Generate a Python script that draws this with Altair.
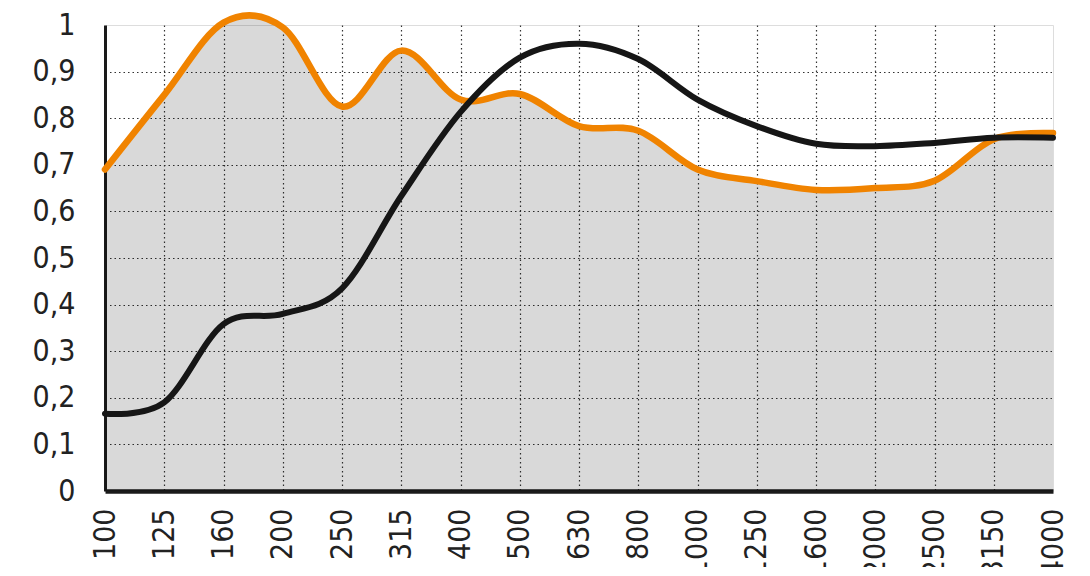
import altair as alt
import pandas as pd

freqs = ["100", "125", "160", "200", "250", "315", "400", "500", "630", "800",
         "1000", "1250", "1600", "2000", "2500", "3150", "4000"]
orange_vals = [0.69, 0.85, 1.005, 0.995, 0.825, 0.945, 0.84, 0.852, 0.783, 0.773,
               0.69, 0.665, 0.646, 0.65, 0.666, 0.755, 0.768]
black_vals = [0.166, 0.19, 0.358, 0.38, 0.435, 0.633, 0.813, 0.93, 0.96, 0.927,
              0.84, 0.783, 0.745, 0.74, 0.747, 0.758, 0.758]

df = pd.DataFrame({"freq": freqs, "orange": orange_vals, "black": black_vals})

FONT = "DejaVu Sans Condensed, Liberation Sans, sans-serif"

x_enc = alt.X(
    "freq:O", sort=freqs,
    scale=alt.Scale(type="point", padding=0),
    axis=alt.Axis(
        title=None, labelAngle=-90, labelFontSize=30, labelFont=FONT,
        labelColor="#222222", labelPadding=17, ticks=False,
        domainColor="#1a1a1a", domainWidth=4.5,
        grid=True, gridColor="#333333", gridDash=[1.5, 3], gridWidth=1.2,
        gridOpacity={"condition": {"test": "datum.value == '100' || datum.value == '4000'", "value": 0}, "value": 1},
        labelOverlap=False,
    ),
)

y_axis = alt.Axis(
    title=None, values=[0, 0.1, 0.2, 0.3, 0.4, 0.5, 0.6, 0.7, 0.8, 0.9, 1.0],
    labelExpr="replace(format(datum.value, '.1~f'), '.', ',')",
    labelFontSize=30, labelFont=FONT, labelColor="#222222", labelPadding=30,
    ticks=False, domainColor="#1a1a1a", domainWidth=3,
    grid=True, gridColor="#333333", gridDash=[1.5, 3], gridWidth=1.2,
    gridOpacity={"condition": {"test": "datum.value == 0 || datum.value == 1", "value": 0}, "value": 1},
)

base = alt.Chart(df)

area = base.mark_area(interpolate="cardinal", color="black", opacity=0.15).encode(
    x=x_enc,
    y=alt.Y("orange:Q", scale=alt.Scale(domain=[0, 1], nice=False, zero=True), axis=y_axis),
)

orange_line = base.mark_line(interpolate="cardinal", color="#f08300", strokeWidth=6.5,
                             strokeCap="round", strokeJoin="round").encode(
    x=x_enc, y=alt.Y("orange:Q"),
)

black_line = base.mark_line(interpolate="cardinal", color="#161616", strokeWidth=6,
                            strokeCap="round", strokeJoin="round").encode(
    x=x_enc, y=alt.Y("black:Q"),
)

chart = alt.layer(area, orange_line, black_line).properties(
    width=948, height=466,
    autosize=alt.AutoSizeParams(type="none"),
    padding={"left": 97, "top": 17, "right": 20, "bottom": 76},
).configure_view(stroke=None).configure(background="white")

chart.save("out.html", embed_options={"renderer": "svg", "actions": False})
